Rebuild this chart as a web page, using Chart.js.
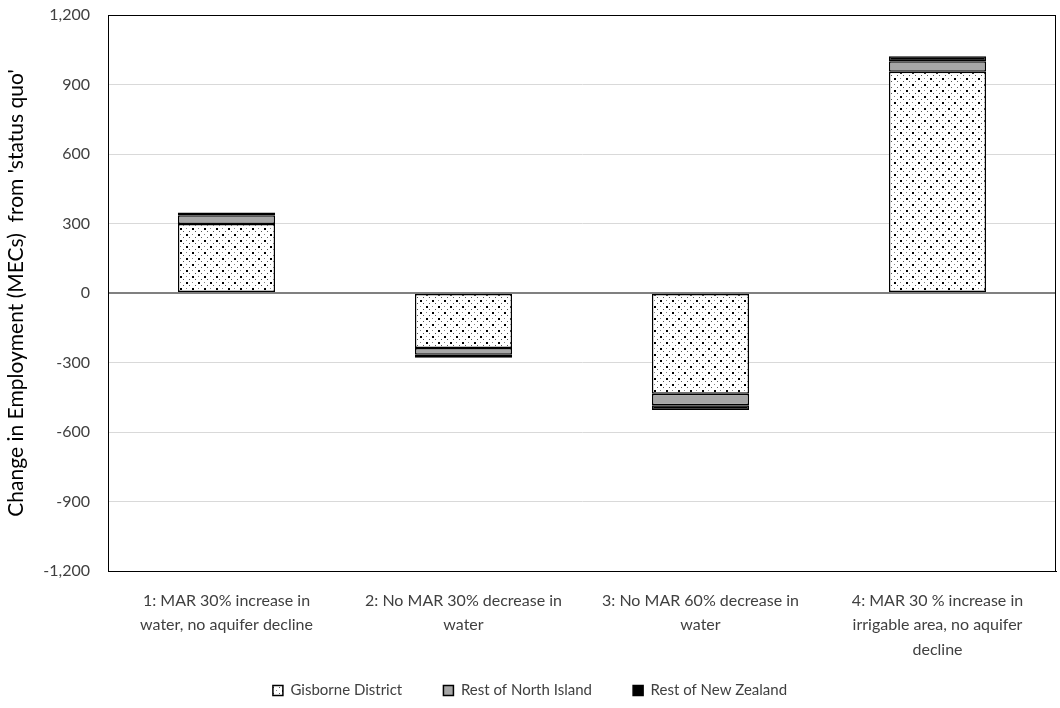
<!DOCTYPE html>
<html><head><meta charset="utf-8">
<script src="https://cdn.jsdelivr.net/npm/chart.js@4/dist/chart.umd.min.js"></script>
<style>html,body{margin:0;padding:0;background:#fff}#wrap{width:1060px;height:708px}</style>
</head><body><div id="wrap"><canvas id="c" width="1060" height="708"></canvas></div>
<script>
const categories = [
  ["1: MAR 30% increase in", "water, no aquifer decline"],
  ["2: No MAR 30% decrease in", "water"],
  ["3: No MAR 60% decrease in", "water"],
  ["4: MAR 30 % increase in", "irrigable area, no aquifer", "decline"]
];
const gisborne = [298, -237, -435, 955];
const restNorthIsland = [38, -30, -50, 45];
const restNewZealand = [12, -12, -20, 22];
const yTicks = [-1200, -900, -600, -300, 0, 300, 600, 900, 1200];

function makePattern() {
  const t = document.createElement('canvas');
  t.width = 12; t.height = 12;
  const g = t.getContext('2d');
  g.fillStyle = '#fff'; g.fillRect(0, 0, 12, 12);
  g.fillStyle = '#000';
  g.fillRect(0, 0, 2, 2);
  g.fillRect(6, 6, 2, 2);
  g.fillStyle = '#555';
  g.fillRect(3, 3, 1, 1);
  g.fillRect(9, 9, 1, 1);
  g.fillRect(9, 3, 1, 1);
  g.fillRect(3, 9, 1, 1);
  g.fillStyle = '#888';
  g.fillRect(6, 0, 1, 1);
  g.fillRect(0, 6, 1, 1);
  return g.createPattern(t, 'repeat');
}
const ctx = document.getElementById('c').getContext('2d');
const pat = makePattern();
const FONT = "Lato, 'Open Sans', sans-serif";

const frame = {
  id: 'frame',
  afterDraw(chart) {
    const a = chart.chartArea, c = chart.ctx;
    c.save(); c.strokeStyle = '#000'; c.lineWidth = 1;
    c.strokeRect(Math.round(a.left) + 0.5, Math.round(a.top) + 0.5, Math.round(a.right - a.left) - 1, Math.round(a.bottom - a.top));
    c.restore();
  }
};

new Chart(ctx, {
  type: 'bar',
  data: {
    labels: categories,
    datasets: [
      { label: 'Gisborne District', data: gisborne, backgroundColor: pat, borderColor: '#000', borderWidth: 1.5, borderSkipped: false },
      { label: 'Rest of North Island', data: restNorthIsland, backgroundColor: '#a6a6a6', borderColor: '#000', borderWidth: 1.5, borderSkipped: false },
      { label: 'Rest of New Zealand', data: restNewZealand, backgroundColor: '#000', borderColor: '#000', borderWidth: 1.5, borderSkipped: false }
    ]
  },
  options: {
    responsive: false, animation: false,
    layout: { padding: { left: 4, right: 4, top: 15, bottom: 0 } },
    datasets: { bar: { categoryPercentage: 0.41, barPercentage: 1 } },
    plugins: {
      tooltip: { enabled: false },
      legend: {
        position: 'bottom',
        labels: {
          font: { family: FONT, size: 15 }, color: '#404040', boxWidth: 10, boxHeight: 10, padding: 22,
          generateLabels(chart) {
            const items = Chart.defaults.plugins.legend.labels.generateLabels(chart);
            items.forEach((it, i) => { if (i < items.length - 1) it.text = it.text + '     '; });
            return items;
          }
        }
      }
    },
    scales: {
      x: {
        stacked: true,
        grid: { display: false },
        border: { display: true, color: '#000' },
        ticks: { font: { family: FONT, size: 16, lineHeight: 1.55 }, color: '#404040', maxRotation: 0, autoSkip: false, padding: 9 },
        afterFit(s) { s.height = 90; }
      },
      y: {
        stacked: true,
        min: -1200, max: 1200,
        afterBuildTicks(s) { s.ticks = yTicks.map(v => ({ value: v })); },
        grid: {
          color: c => c.tick && c.tick.value === 0 ? '#808080' : '#d9d9d9',
          lineWidth: c => c.tick && c.tick.value === 0 ? 2 : 1,
          drawTicks: false
        },
        border: { display: true, color: '#000' },
        ticks: {
          font: { family: FONT, size: 16 }, color: '#404040', padding: 18,
          callback: v => v.toLocaleString('en-US')
        },
        title: { display: true, text: "Change in Employment (MECs)  from 'status quo'", font: { family: FONT, size: 21 }, color: '#000', padding: { top: 0, bottom: 6 } },
        afterFit(s) { s.width = 104; s.paddingTop = 0; s.paddingBottom = 0; }
      }
    }
  },
  plugins: [frame]
});
</script></body></html>
